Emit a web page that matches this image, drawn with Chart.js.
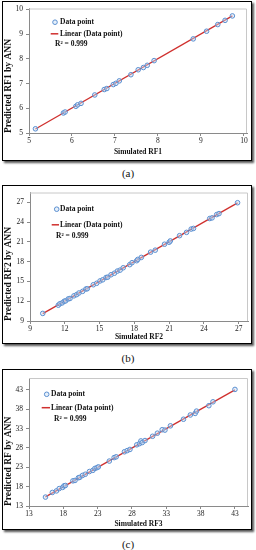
<!DOCTYPE html>
<html>
<head>
<meta charset="utf-8">
<script src="https://cdn.jsdelivr.net/npm/chart.js@4.4.1/dist/chart.umd.min.js"></script>
<style>
  html, body { margin: 0; padding: 0; background: #fff; }
  body { width: 256px; height: 550px; position: relative; overflow: hidden; font-family: 'Liberation Serif', 'Times New Roman', serif; }
  .box { position: absolute; left: 2px; width: 250px; box-sizing: border-box; border: 1.6px solid #000; box-shadow: 2px 2px 2px #555; background: #fff; }
  canvas { position: absolute; left: 0; }
  .cap { position: absolute; left: 0; width: 256px; text-align: center; font-size: 11px; color: #111; line-height: 12px; }
</style>
</head>
<body>
<div class="box" style="top:1px;height:160px;"></div>
<div class="box" style="top:185px;height:159px;"></div>
<div class="box" style="top:369px;height:161px;"></div>
<canvas id="cA" width="256" height="160" style="top:1px"></canvas>
<canvas id="cB" width="256" height="159" style="top:185px"></canvas>
<canvas id="cC" width="256" height="161" style="top:369px"></canvas>
<div class="cap" style="top:167px">(a)</div>
<div class="cap" style="top:352px">(b)</div>
<div class="cap" style="top:538px">(c)</div>
<script>
// ---------- data ----------
const rf1Sim = [5.15, 5.80, 5.84, 6.09, 6.13, 6.21, 6.53, 6.75, 6.81, 6.96, 7.02, 7.10, 7.37, 7.54, 7.66, 7.75, 7.91, 8.82, 9.13, 9.39, 9.56, 9.73];
const rf1Ann = [5.17, 5.81, 5.85, 6.08, 6.14, 6.20, 6.54, 6.76, 6.80, 6.96, 7.01, 7.11, 7.36, 7.56, 7.65, 7.74, 7.93, 8.81, 9.12, 9.39, 9.56, 9.74];
const fit1X = [5.15, 9.73];
const fit1Y = [5.16, 9.74];
const rf1Ticks = [5, 6, 7, 8, 9, 10];

const rf2Sim = [10.1, 11.44, 11.58, 11.78, 11.95, 12.07, 12.30, 12.45, 12.79, 13.02, 13.22, 13.54, 13.82, 13.94, 14.46, 14.75, 15.04, 15.27, 15.56, 15.70, 15.99, 16.28, 16.54, 16.77, 17.04, 17.6, 17.8, 18.2, 18.3, 18.6, 19.4, 19.8, 20.6, 21.0, 21.1, 21.9, 22.5, 22.9, 23.1, 24.5, 24.7, 25.1, 25.3, 26.9];
const rf2Ann = [10.15, 11.40, 11.62, 11.75, 12.00, 12.05, 12.35, 12.42, 12.82, 13.00, 13.25, 13.50, 13.85, 13.90, 14.50, 14.72, 15.08, 15.25, 15.60, 15.65, 16.02, 16.25, 16.58, 16.72, 17.08, 17.55, 17.85, 18.15, 18.35, 18.65, 19.45, 19.75, 20.65, 20.95, 21.15, 21.95, 22.45, 22.95, 23.05, 24.55, 24.65, 25.15, 25.30, 26.95];
const fit2X = [10.1, 26.9];
const fit2Y = [10.12, 26.92];
const rf2Ticks = [9, 12, 15, 18, 21, 24, 27];

const rf3Sim = [15.4, 16.4, 17.0, 17.4, 17.9, 18.1, 18.3, 19.4, 19.7, 20.2, 20.4, 20.8, 21.2, 21.8, 22.3, 22.6, 22.9, 23.1, 24.7, 25.4, 25.7, 26.9, 27.3, 27.7, 28.7, 29.1, 29.3, 29.5, 29.9, 31.0, 31.7, 32.4, 32.8, 33.6, 35.5, 36.5, 37.2, 37.4, 39.2, 39.8, 43.0];
const rf3Ann = [15.3, 16.5, 16.9, 17.5, 17.8, 18.2, 18.3, 19.5, 19.6, 20.3, 20.4, 20.9, 21.2, 21.9, 22.2, 22.7, 22.9, 23.1, 24.6, 25.5, 25.7, 27.0, 27.3, 27.6, 28.8, 29.1, 29.8, 29.4, 29.9, 31.0, 31.8, 32.7, 32.6, 33.7, 35.4, 36.5, 36.9, 37.5, 38.9, 39.9, 43.1];
const fit3X = [15.4, 43.0];
const fit3Y = [15.35, 43.0];
const rf3Ticks = [13, 18, 23, 28, 33, 38, 43];

const legendPoint = 'Data point';
const legendLine = 'Linear (Data point)';
const r2Text = 'R² = 0.999';

// ---------- styling ----------
const SERIF = "'Liberation Serif', 'Times New Roman', serif";
const MARK_BORDER = '#5b8fd0';
const MARK_FILL = 'rgba(200,222,245,0.45)';
const FIT_COLOR = '#d0302e';

const insideLegend = {
  id: 'insideLegend',
  afterDraw(chart, args, o) {
    const {ctx, chartArea: a} = chart;
    ctx.save();
    // plot-area top/right border
    ctx.strokeStyle = '#c8c8c8';
    ctx.lineWidth = 1;
    ctx.beginPath();
    ctx.moveTo(a.left, a.top + 0.5);
    ctx.lineTo(a.right - 0.5, a.top + 0.5);
    ctx.lineTo(a.right - 0.5, a.bottom);
    ctx.stroke();
    // marker
    ctx.beginPath();
    ctx.arc(a.left + o.mx, a.top + o.my, 2.3, 0, Math.PI * 2);
    ctx.fillStyle = MARK_FILL;
    ctx.fill();
    ctx.strokeStyle = MARK_BORDER;
    ctx.lineWidth = 1;
    ctx.stroke();
    // line sample
    ctx.beginPath();
    ctx.moveTo(a.left + o.lx1, a.top + o.ly);
    ctx.lineTo(a.left + o.lx2, a.top + o.ly);
    ctx.strokeStyle = FIT_COLOR;
    ctx.lineWidth = 1.5;
    ctx.stroke();
    ctx.fillStyle = '#111';
    ctx.font = 'bold 7.5px ' + SERIF;
    ctx.textBaseline = 'middle';
    ctx.textAlign = 'left';
    ctx.fillText(legendPoint, a.left + o.tx, a.top + o.my);
    ctx.fillText(legendLine, a.left + o.tx, a.top + o.ly);
    ctx.fillText(r2Text, a.left + o.rx, a.top + o.ry);
    ctx.restore();
  }
};

function makeChart(id, sim, ann, fx, fy, ticks, xTitle, yTitle, g) {
  const pts = sim.map((v, i) => ({x: v, y: ann[i]}));
  const fit = fx.map((v, i) => ({x: v, y: fy[i]}));
  const tickFont = {family: SERIF, size: 7.5};
  const setTicks = s => { s.ticks = ticks.map(v => ({value: v})); };
  new Chart(document.getElementById(id), {
    type: 'scatter',
    data: {
      datasets: [
        {data: pts, pointRadius: 2.3, pointBorderWidth: 1, borderColor: MARK_BORDER, backgroundColor: MARK_FILL, pointStyle: 'circle', order: 1},
        {data: fit, showLine: true, pointRadius: 0, borderColor: FIT_COLOR, borderWidth: 1.3, fill: false, order: 2}
      ]
    },
    options: {
      responsive: false,
      devicePixelRatio: 1,
      animation: false,
      layout: {padding: {left: 0, right: g.padR, top: g.padT, bottom: 0}},
      plugins: {
        legend: {display: false},
        tooltip: {enabled: false},
        insideLegend: g.leg
      },
      scales: {
        x: {
          type: 'linear', position: 'bottom', min: g.xmin, max: g.xmax,
          afterBuildTicks: setTicks,
          afterFit: s => { s.height = g.xh; },
          grid: {drawOnChartArea: false, drawTicks: true, tickLength: 3, color: '#8a8a8a'},
          border: {display: true, color: '#8a8a8a', width: 1},
          ticks: {font: tickFont, color: '#222', padding: 1, maxRotation: 0, autoSkip: false},
          title: {display: true, text: xTitle, color: '#111', font: {family: SERIF, size: 7.5, weight: 'bold'}, padding: {top: 0, bottom: g.xtp}}
        },
        y: {
          type: 'linear', position: 'left', min: g.ymin, max: g.ymax,
          afterBuildTicks: setTicks,
          afterFit: s => { s.width = g.yw; },
          grid: {drawOnChartArea: false, drawTicks: true, tickLength: 3, color: '#8a8a8a'},
          border: {display: true, color: '#8a8a8a', width: 1},
          ticks: {font: tickFont, color: '#222', padding: 3, autoSkip: false},
          title: {display: true, text: yTitle, align: 'start', color: '#111', font: {family: SERIF, size: 9.5, weight: 'bold'}, padding: {top: 2.5, bottom: 0}}
        }
      }
    },
    plugins: [insideLegend]
  });
}

makeChart('cA', rf1Sim, rf1Ann, fit1X, fit1Y, rf1Ticks, 'Simulated RF1', 'Predicted RF1 by ANN',
  {xmin: 5, xmax: 10.07, ymin: 5, ymax: 10.04, padR: 9, padT: 7, xh: 28, yw: 29, xtp: 4,
   leg: {mx: 26, my: 13.7, lx1: 21.7, lx2: 29.3, ly: 25.3, tx: 31, rx: 26, ry: 35.7}});
makeChart('cB', rf2Sim, rf2Ann, fit2X, fit2Y, rf2Ticks, 'Simulated RF2', 'Predicted RF2 by ANN',
  {xmin: 9, xmax: 27.8, ymin: 9, ymax: 28.5, padR: 8, padT: 6, xh: 23, yw: 30, xtp: 2.5,
   leg: {mx: 26.7, my: 16.7, lx1: 21.7, lx2: 29, ly: 32.3, tx: 30, rx: 26, ry: 44}});
makeChart('cC', rf3Sim, rf3Ann, fit3X, fit3Y, rf3Ticks, 'Simulated RF3', 'Predicted RF by ANN',
  {xmin: 13, xmax: 44.9, ymin: 13, ymax: 46.05, padR: 8, padT: 9, xh: 24, yw: 29, xtp: 1.5,
   leg: {mx: 17.7, my: 16.3, lx1: 12.7, lx2: 21, ly: 29.7, tx: 22, rx: 25, ry: 41.3}});
</script>
</body>
</html>
